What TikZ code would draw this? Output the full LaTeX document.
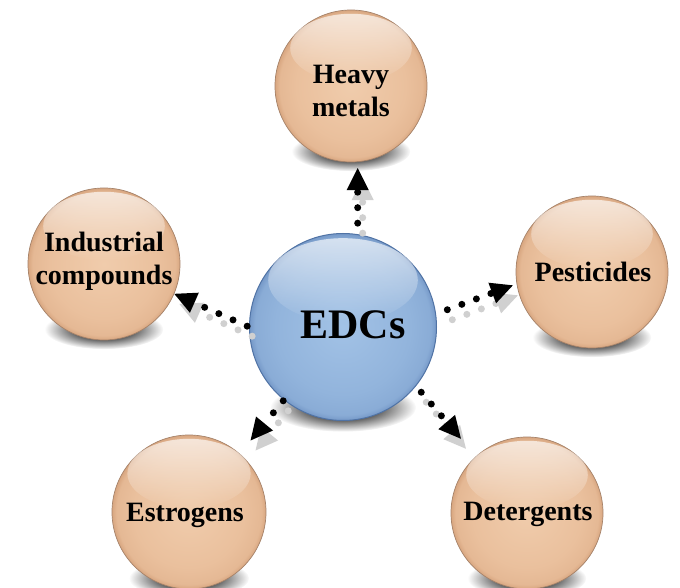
\documentclass[tikz,border=0pt]{standalone}
\usepackage{fontspec}
\setmainfont{Liberation Serif}
\usetikzlibrary{arrows.meta,fadings,shadings}
\definecolor{tanin}{RGB}{240,204,172}
\definecolor{tanmid}{RGB}{234,192,157}
\definecolor{tanout}{RGB}{216,166,128}
\definecolor{tanrim}{RGB}{165,130,105}
\definecolor{bluein}{RGB}{162,194,230}
\definecolor{bluemid}{RGB}{146,180,220}
\definecolor{blueout}{RGB}{118,153,200}
\definecolor{bluerim}{RGB}{80,115,165}
\definecolor{shadowgray}{RGB}{208,208,208}
\pgfdeclareradialshading{tanball}{\pgfpoint{0bp}{0bp}}{color(0bp)=(tanin); color(18bp)=(tanmid); color(23.5bp)=(tanmid!70!tanout); color(25bp)=(tanout); color(50bp)=(tanout)}
\pgfdeclareradialshading{blueball}{\pgfpoint{0bp}{0bp}}{color(0bp)=(bluein); color(18bp)=(bluemid); color(23.5bp)=(bluemid!70!blueout); color(25bp)=(blueout); color(50bp)=(blueout)}
\pgfdeclareradialshading{shadowshade}{\pgfpointorigin}{color(0bp)=(pgftransparent!0); color(10bp)=(pgftransparent!10); color(25bp)=(pgftransparent!100); color(50bp)=(pgftransparent!100)}
\pgfdeclarefading{softshadow}{\pgfuseshading{shadowshade}}
\tikzfading[name=glossfade, top color=transparent!35, bottom color=transparent!100]
\tikzset{
  sphere/.style={circle, minimum size=#1, inner sep=0pt, align=center,
    font=\bfseries\fontsize{28}{33}\selectfont},
  tansphere/.style={sphere=#1, shading=tanball, draw=tanrim, line width=0.7pt},
  bluesphere/.style={sphere=#1, shading=blueball, draw=bluerim, line width=1pt},
  dotline/.style={line width=7pt, line cap=round, dash pattern=on 0pt off 15.5pt,
    -{Triangle[length=22pt,width=22pt,line width=0pt]}},
  dotshadow/.style={dotline, shadowgray},
}
% sphere with shadow and gloss
\newcommand{\mysphere}[5]{% name, x, y, radius, style
  \fill[black!85, path fading=softshadow] (#2, #3+0.86*#4) ellipse ({0.78*#4} and {0.26*#4});
  \node[#5] (#1) at (#2,#3) {};
  \fill[white, path fading=glossfade] (#2, #3-0.5*#4) ellipse ({0.8*#4} and {0.45*#4});
}
\begin{document}
\begin{tikzpicture}[x=1pt,y=-1pt]
\useasboundingbox (0,0) rectangle (680,588);
\fill[white] (0,0) rectangle (680,588);
% spheres
\mysphere{hm}{351}{86}{76}{tansphere=152pt}
\mysphere{ind}{104}{264}{76}{tansphere=152pt}
\mysphere{pest}{592}{272}{76}{tansphere=152pt}
\mysphere{est}{189}{512}{77}{tansphere=154pt}
\mysphere{det}{527}{513}{76}{tansphere=152pt}
\mysphere{edc}{343}{327}{93.5}{bluesphere=187pt}
% labels
\node[sphere=10pt] (hmt) at (351,91) {Heavy\\metals};
\node[sphere=10pt] (indt) at (104,261) {Industrial\\compounds};
\node[sphere=10pt] (pestt) at (593,272) {Pesticides};
\node[sphere=10pt] (estt) at (185,515) {Estrogens};
\node[sphere=10pt] (dett) at (528,514) {Detergents};
\node[sphere=10pt, font=\bfseries\fontsize{42}{46}\selectfont] (edct) at (353,325) {EDCs};
% arrow shadows
\begin{scope}[transform canvas={shift={(5pt,-10pt)}}]
\draw[dotshadow, shorten <=11pt, shorten >=6pt] (edc.81) -- (hm.-85);
\draw[dotshadow, shorten <=2pt] (edc.180) -- (ind.-23);
\draw[dotshadow, shorten <=12pt, shorten >=4pt] (edc.8) -- (pest.189);
\draw[dotshadow, shorten <=1pt, shorten >=17pt] (edc.231) -- (est.49);
\draw[dotshadow, shorten <=8pt, shorten >=23pt] (edc.-39) -- (det.132);
\end{scope}
% arrows
\draw[dotline, shorten <=11pt, shorten >=6pt] (edc.81) -- (hm.-85);
\draw[dotline, shorten <=2pt] (edc.180) -- (ind.-23);
\draw[dotline, shorten <=12pt, shorten >=4pt] (edc.8) -- (pest.189);
\draw[dotline, shorten <=1pt, shorten >=17pt] (edc.231) -- (est.49);
\draw[dotline, shorten <=8pt, shorten >=23pt] (edc.-39) -- (det.132);
\end{tikzpicture}
\end{document}
